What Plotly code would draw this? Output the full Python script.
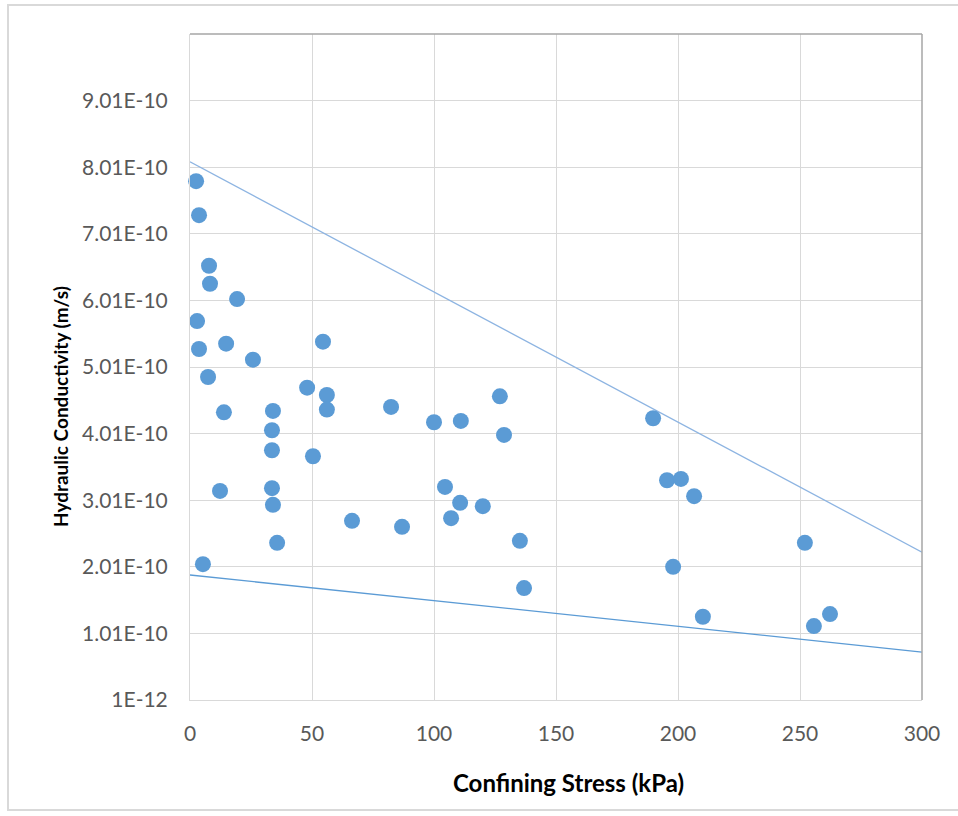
import plotly.graph_objects as go

# Data
stress_kpa = [2.5, 3.7, 7.8, 8.2, 19.3, 2.9, 3.7, 14.8, 25.8, 7.4, 13.9, 12.3, 5.3,
              34.0, 33.6, 33.6, 33.6, 34.0, 35.7, 48.0, 54.5, 56.1, 56.1, 50.4, 66.4,
              82.4, 86.9, 100.0, 111.0, 127.0, 128.7, 104.5, 110.7, 107.0, 120.0,
              135.2, 136.9, 189.8, 195.5, 201.2, 206.6, 198.0, 210.2, 252.0, 255.7, 262.3]
conductivity = [7.80e-10, 7.29e-10, 6.53e-10, 6.26e-10, 6.03e-10, 5.70e-10, 5.28e-10,
                5.36e-10, 5.12e-10, 4.86e-10, 4.33e-10, 3.15e-10, 2.05e-10,
                4.35e-10, 4.06e-10, 3.76e-10, 3.19e-10, 2.94e-10, 2.37e-10, 4.70e-10,
                5.39e-10, 4.59e-10, 4.37e-10, 3.67e-10, 2.70e-10, 4.41e-10, 2.61e-10,
                4.18e-10, 4.20e-10, 4.57e-10, 3.99e-10, 3.21e-10, 2.97e-10, 2.74e-10,
                2.92e-10, 2.40e-10, 1.69e-10, 4.24e-10, 3.31e-10, 3.33e-10, 3.07e-10,
                2.01e-10, 1.26e-10, 2.37e-10, 1.12e-10, 1.30e-10]

upper_x = [0, 300]
upper_y = [8.09e-10, 2.23e-10]
lower_x = [0, 300]
lower_y = [1.887e-10, 0.73e-10]

y_ticks = [1e-12, 1.01e-10, 2.01e-10, 3.01e-10, 4.01e-10, 5.01e-10,
           6.01e-10, 7.01e-10, 8.01e-10, 9.01e-10]
y_labels = ["1E-12", "1.01E-10", "2.01E-10", "3.01E-10", "4.01E-10", "5.01E-10",
            "6.01E-10", "7.01E-10", "8.01E-10", "9.01E-10"]
x_ticks = [0, 50, 100, 150, 200, 250, 300]

fig = go.Figure()
fig.add_trace(go.Scatter(x=upper_x, y=upper_y, mode="lines",
                         line=dict(color="#8DB4E2", width=1.3), showlegend=False, cliponaxis=False))
fig.add_trace(go.Scatter(x=lower_x, y=lower_y, mode="lines",
                         line=dict(color="#5B9BD5", width=1.3), showlegend=False, cliponaxis=False))
fig.add_trace(go.Scatter(x=stress_kpa, y=conductivity, mode="markers",
                         marker=dict(color="#5B9BD5", size=16, line=dict(width=0)),
                         showlegend=False, cliponaxis=False))

font_tick = dict(family="Lato, 'Open Sans', sans-serif", size=21, color="#595959")

fig.update_layout(
    width=958, height=816,
    margin=dict(l=190, r=36, t=34, b=116),
    paper_bgcolor="white", plot_bgcolor="white",
    xaxis=dict(range=[0, 300], tickvals=x_ticks, showgrid=True, gridcolor="#D9D9D9",
               gridwidth=1, zeroline=False, showline=True, linecolor="#D9D9D9",
               linewidth=1, mirror=False, tickfont=font_tick,
               ticks="outside", ticklen=15, tickcolor="rgba(0,0,0,0)"),
    yaxis=dict(range=[1e-12, 1.001e-9], tickvals=y_ticks, ticktext=y_labels,
               showgrid=True, gridcolor="#D9D9D9", gridwidth=1, zeroline=False,
               showline=True, linecolor="#D9D9D9", linewidth=1, tickfont=font_tick,
               ticks="outside", ticklen=17, tickcolor="rgba(0,0,0,0)"),
    font=dict(family="Lato, 'Open Sans', sans-serif"),
)

# Top and right plot-area border (darker gray)
fig.add_shape(type="line", xref="paper", yref="paper", x0=0, x1=1, y0=1, y1=1,
              line=dict(color="#A6A6A6", width=1.5))
fig.add_shape(type="line", xref="paper", yref="paper", x0=1, x1=1, y0=0, y1=1,
              line=dict(color="#A6A6A6", width=1.5))

# Outer chart frame
W, H = 732.0, 666.0
fig.add_shape(type="rect", xref="paper", yref="paper",
              x0=(8 - 190) / W, x1=(962 - 190) / W,
              y0=(700 - 810) / H, y1=(700 - 5) / H,
              line=dict(color="#D9D9D9", width=2), layer="below")

fig.add_annotation(text="<b>Confining Stress (kPa)</b>", xref="paper", yref="paper",
                   x=(568 - 190) / W, y=(700 - 782) / H, showarrow=False,
                   font=dict(family="Lato, 'Open Sans', sans-serif", size=24, color="#000000"),
                   xanchor="center", yanchor="middle")
fig.add_annotation(text="<b>Hydraulic Conductivity (m/s)</b>", xref="paper", yref="paper",
                   x=(60 - 190) / W, y=(700 - 407) / H, showarrow=False, textangle=-90,
                   font=dict(family="Lato, 'Open Sans', sans-serif", size=19, color="#000000"),
                   xanchor="center", yanchor="middle")

fig.write_html("out.html")
